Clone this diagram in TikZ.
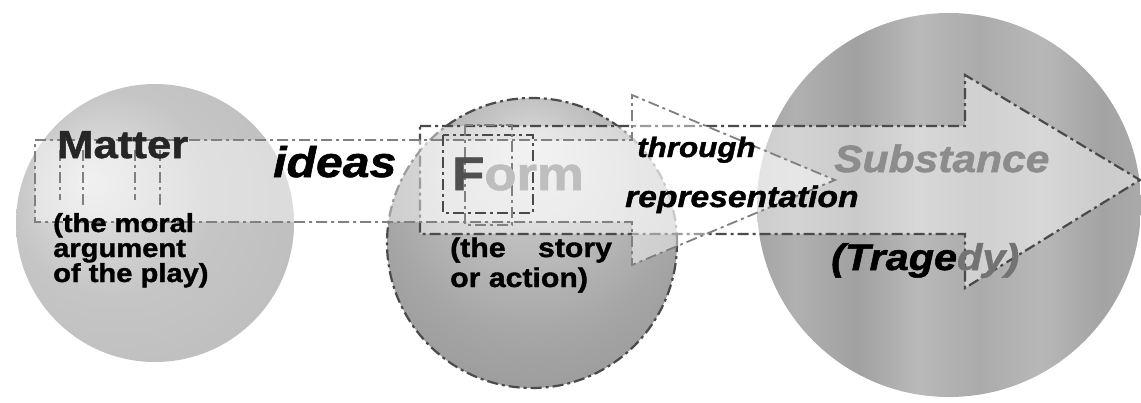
\documentclass[tikz,border=0pt]{standalone}
\usepackage{fontspec}
\setmainfont{Liberation Sans}
\newfontfamily\heavy{Liberation Sans}[FakeBold=1.4, FakeStretch=1.12]
\definecolor{formlight}{HTML}{BEBEBE}
\definecolor{formdark}{HTML}{505050}
\definecolor{subst}{HTML}{8C8C8C}
\definecolor{outline}{HTML}{4A4A4A}
\pgfdeclareradialshading{leftball}{\pgfpoint{-12bp}{8bp}}{color(0bp)=(white!80!gray); color(18bp)=(gray!45); color(50bp)=(gray!58)}
\pgfdeclareradialshading{midball}{\pgfpoint{0bp}{18bp}}{color(0bp)=(white!70!gray); color(25bp)=(gray!70); color(50bp)=(gray!95)}
\pgfdeclarehorizontalshading{stripes}{100bp}{color(0bp)=(gray!80); color(12bp)=(gray!68); color(20bp)=(gray!80); color(30bp)=(gray!62); color(38bp)=(gray!74); color(46bp)=(gray!55); color(54bp)=(gray!66); color(62bp)=(gray!56); color(70bp)=(gray!72); color(80bp)=(gray!62); color(90bp)=(gray!76); color(100bp)=(gray!70)}
\tikzset{
  ball/.style={circle, inner sep=0pt},
  dd/.style={draw=outline, line width=2.2pt, dash pattern=on 11pt off 4pt on 3pt off 4pt},
  ddlight/.style={draw=outline!70, line width=1.8pt, dash pattern=on 11pt off 4pt on 3pt off 4pt},
  arrowfill/.style={fill=white, fill opacity=0.45},
  lbl/.style={inner sep=0pt, anchor=base west},
}
\begin{document}
\begin{tikzpicture}[x=1pt,y=-1pt]
\useasboundingbox (0,0) rectangle (1141,402);
% circles
\node[ball, minimum size=278pt, shading=leftball] (matterball) at (155,223) {};
\node[ball, minimum size=290pt, shading=midball, dd] (formball) at (532,243) {};
\node[ball, minimum size=384pt, shading=stripes] (substball) at (949,205) {};
% big arrow (Form -> Substance)
\path[arrowfill] (420,126) -- (965,126) -- (965,75) -- (1140,180) -- (965,288) -- (965,234) -- (420,234) -- cycle;
\draw[dd] (420,126) -- (965,126) -- (965,75) -- (1140,180) -- (965,288) -- (965,234) -- (420,234) -- cycle;
% small arrow (Matter -> Form)
\path[arrowfill] (35,140) -- (632,140) -- (632,95) -- (835,180) -- (632,265) -- (632,222) -- (35,222) -- cycle;
\draw[ddlight] (35,140) -- (632,140) -- (632,95) -- (835,180) -- (632,265) -- (632,222) -- (35,222) -- cycle;
% text box outlines
\draw[ddlight] (60,150) -- (60,200) (83,150) -- (83,205) (135,150) -- (135,200) (160,150) -- (160,205);
\draw[dd] (443,135) rectangle (533,213);
\draw[ddlight] (465,125) rectangle (512,225);
% texts
\node[lbl, font=\fontsize{39}{39}\heavy\bfseries, text=black!85] (matter) at (57,158) {Matter};
\node[lbl, align=left, font=\fontsize{26}{25}\heavy\bfseries] (matterdesc) at (53,282) {(the moral\\argument\\of the play)};
\node[lbl, font=\fontsize{43}{43}\heavy\bfseries\itshape] (ideas) at (273,177) {ideas};
\node[lbl, font=\fontsize{47}{47}\heavy\bfseries] (form) at (452,190) {\textcolor{formdark}{F}\textcolor{formlight}{orm}};
\node[lbl, align=left, font=\fontsize{27}{30}\heavy\bfseries] (formdesc) at (450,287) {(the\hspace{1.2em}story\\or action)};
\node[lbl, font=\fontsize{28}{28}\heavy\bfseries\itshape] (through) at (637,157) {through};
\node[lbl, font=\fontsize{30}{30}\heavy\bfseries\itshape] (repr) at (625,207) {representation};
\node[lbl, font=\fontsize{38}{38}\heavy\bfseries\itshape, text=subst] (substance) at (834,172) {Substance};
\node[lbl, font=\fontsize{37}{37}\heavy\bfseries\itshape] (tragedy) at (831,270) {(Trage\textcolor{black!55}{dy)}};
\end{tikzpicture}
\end{document}
